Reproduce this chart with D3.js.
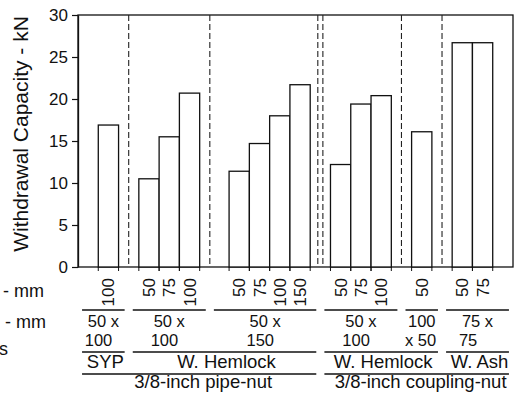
<!DOCTYPE html>
<html>
<head>
<meta charset="utf-8">
<script src="https://cdn.jsdelivr.net/npm/d3@7"></script>
<style>
  body { margin: 0; background: #fff; }
  svg { display: block; font-family: "Liberation Sans", Arial, sans-serif; }
</style>
</head>
<body>
<svg width="517" height="398"></svg>
<script>
// values
var embedment = ["100", "50", "75", "100", "50", "75", "100", "150", "50", "75", "100", "50", "50", "75"];
var withdrawal = [16.9, 10.5, 15.5, 20.7, 11.4, 14.7, 18.0, 21.7, 12.2, 19.4, 20.4, 16.1, 26.7, 26.7];
var memberOf = [0, 1, 1, 1, 2, 2, 2, 2, 3, 3, 3, 4, 5, 5];
var memberSizes = [["50 x", "100"], ["50 x", "100"], ["50 x", "150"], ["50 x", "100"], ["100", "x 50"], ["75 x", "75"]];
var speciesNames = ["SYP", "W. Hemlock", "W. Hemlock", "W. Ash"];
var speciesOf = [0, 1, 1, 2, 2, 3];
var nutNames = ["3/8-inch pipe-nut", "3/8-inch coupling-nut"];
var nutOf = [0, 0, 1, 1];
// row labels are cut by the left edge of the figure
var rowLabels = ["- mm", "- mm", "s"];
var yTicks = [0, 5, 10, 15, 20, 25, 30];

var svg = d3.select("svg");
var pLeft = 78, pRight = 513, pTop = 15, pBottom = 267;

// slot layout: one slot per bar, gaps between member groups
var gapSlots = [1, 1.45, 1, 1, 1];
var starts = [], pos = 1;
withdrawal.forEach(function (v, i) {
  if (i > 0 && memberOf[i] != memberOf[i - 1]) pos += gapSlots[memberOf[i - 1]];
  starts.push(pos);
  pos += 1;
});
var total = pos + 1;

var x = d3.scaleLinear().domain([0, total]).range([pLeft, pRight]);
var y = d3.scaleLinear().domain([0, 30]).range([pBottom, pTop]);

var nGroups = memberSizes.length;
var groupStart = [], groupEnd = [];
for (var g = 0; g < nGroups; g++) {
  var idx = d3.range(starts.length).filter(function (i) { return memberOf[i] == g; });
  groupStart.push(starts[idx[0]]);
  groupEnd.push(starts[idx[idx.length - 1]] + 1);
}
var dividers = d3.range(nGroups - 1).map(function (g) {
  return { at: groupEnd[g] + 0.5, double: nutOf[speciesOf[g]] != nutOf[speciesOf[g + 1]] };
});

function spanOf(g0, g1) {
  var a = g0 == 0 ? 0 : dividers[g0 - 1].at;
  var b = g1 == nGroups - 1 ? total : dividers[g1].at;
  return [a + 0.2, b - 0.2];
}

// frame
svg.append("rect")
  .attr("x", pLeft).attr("y", pTop)
  .attr("width", pRight - pLeft).attr("height", pBottom - pTop)
  .attr("fill", "none").attr("stroke", "#111").attr("stroke-width", 1.3);

// dashed dividers
var dashLines = [];
dividers.forEach(function (d) {
  if (d.double) {
    dashLines.push(d.at - 0.125, d.at + 0.125);
  } else dashLines.push(d.at);
});
svg.append("g").selectAll("line")
  .data(dashLines).enter().append("line")
  .attr("x1", function (d) { return x(d); })
  .attr("x2", function (d) { return x(d); })
  .attr("y1", pTop).attr("y2", pBottom)
  .attr("stroke", "#222").attr("stroke-width", 1.1)
  .attr("stroke-dasharray", "6,3");

// bars
svg.append("g").selectAll("rect")
  .data(withdrawal).enter().append("rect")
  .attr("x", function (d, i) { return x(starts[i]); })
  .attr("width", function (d, i) { return x(starts[i] + 1) - x(starts[i]); })
  .attr("y", function (d) { return y(d); })
  .attr("height", function (d) { return pBottom - y(d); })
  .attr("fill", "#fff").attr("stroke", "#111").attr("stroke-width", 1.3);

// small ticks under bar edges
var edges = [];
starts.forEach(function (s) { edges.push(s, s + 1); });
svg.append("g").selectAll("line")
  .data(edges).enter().append("line")
  .attr("x1", function (d) { return x(d); })
  .attr("x2", function (d) { return x(d); })
  .attr("y1", pBottom).attr("y2", pBottom + 4)
  .attr("stroke", "#111").attr("stroke-width", 1);

// y axis
var yAxis = svg.append("g")
  .attr("transform", "translate(" + pLeft + ",0)")
  .call(d3.axisLeft(y).tickValues(yTicks).tickSize(6).tickSizeOuter(0).tickPadding(4));
yAxis.select(".domain").attr("stroke", "#111").attr("stroke-width", 1.3);
yAxis.selectAll(".tick line").attr("stroke", "#111").attr("stroke-width", 1.2);
yAxis.selectAll(".tick text")
  .attr("font-size", "17px").attr("fill", "#111")
  .attr("font-family", "'Liberation Sans', Arial, sans-serif");

svg.append("text")
  .attr("transform", "translate(28,134) rotate(-90)")
  .attr("text-anchor", "middle")
  .attr("font-size", "21px").attr("fill", "#111")
  .text("Withdrawal Capacity - kN");

// embedment labels (rotated)
svg.append("g").selectAll("text")
  .data(embedment).enter().append("text")
  .attr("transform", function (d, i) {
    return "translate(" + (x(starts[i] + 0.5) + 6) + ",278) rotate(-90)";
  })
  .attr("text-anchor", "end")
  .attr("font-size", "17px").attr("fill", "#111")
  .text(function (d) { return d; });

function hline(span, yy) {
  svg.append("line")
    .attr("x1", x(span[0])).attr("x2", x(span[1]))
    .attr("y1", yy).attr("y2", yy)
    .attr("stroke", "#111").attr("stroke-width", 1.3);
}

// member size row, two lines, second one left aligned
memberSizes.forEach(function (m, g) {
  var span = spanOf(g, g);
  hline(span, 310);
  var cx = x((span[0] + span[1]) / 2);
  var t = svg.append("text")
    .attr("font-size", "16.5px").attr("fill", "#111");
  var l1 = t.append("tspan").attr("y", 327).text(m[0]);
  var x0 = cx - l1.node().getComputedTextLength() / 2;
  l1.attr("x", x0);
  t.append("tspan").attr("x", x0 - 3).attr("y", 346).text(m[1]);
});

// species row
speciesNames.forEach(function (s, k) {
  var gs = d3.range(nGroups).filter(function (g) { return speciesOf[g] == k; });
  var span = spanOf(gs[0], gs[gs.length - 1]);
  hline(span, 352);
  svg.append("text")
    .attr("x", x((span[0] + span[1]) / 2) + 2).attr("y", 368)
    .attr("text-anchor", "middle")
    .attr("font-size", "18.5px").attr("fill", "#111")
    .text(s);
});

// nut row
nutNames.forEach(function (n, k) {
  var gs = d3.range(nGroups).filter(function (g) { return nutOf[speciesOf[g]] == k; });
  var span = spanOf(gs[0], gs[gs.length - 1]);
  hline(span, 374);
  svg.append("text")
    .attr("x", x((span[0] + span[1]) / 2) + 4).attr("y", 388)
    .attr("text-anchor", "middle")
    .attr("font-size", "18.5px").attr("fill", "#111")
    .text(n);
});

// row labels
var rowPos = [[44, 297], [46, 328], [8, 355]];
svg.append("g").selectAll("text")
  .data(rowLabels).enter().append("text")
  .attr("x", function (d, i) { return rowPos[i][0]; })
  .attr("y", function (d, i) { return rowPos[i][1]; })
  .attr("text-anchor", "end")
  .attr("font-size", "18px").attr("fill", "#111")
  .text(function (d) { return d; });
</script>
</body>
</html>
